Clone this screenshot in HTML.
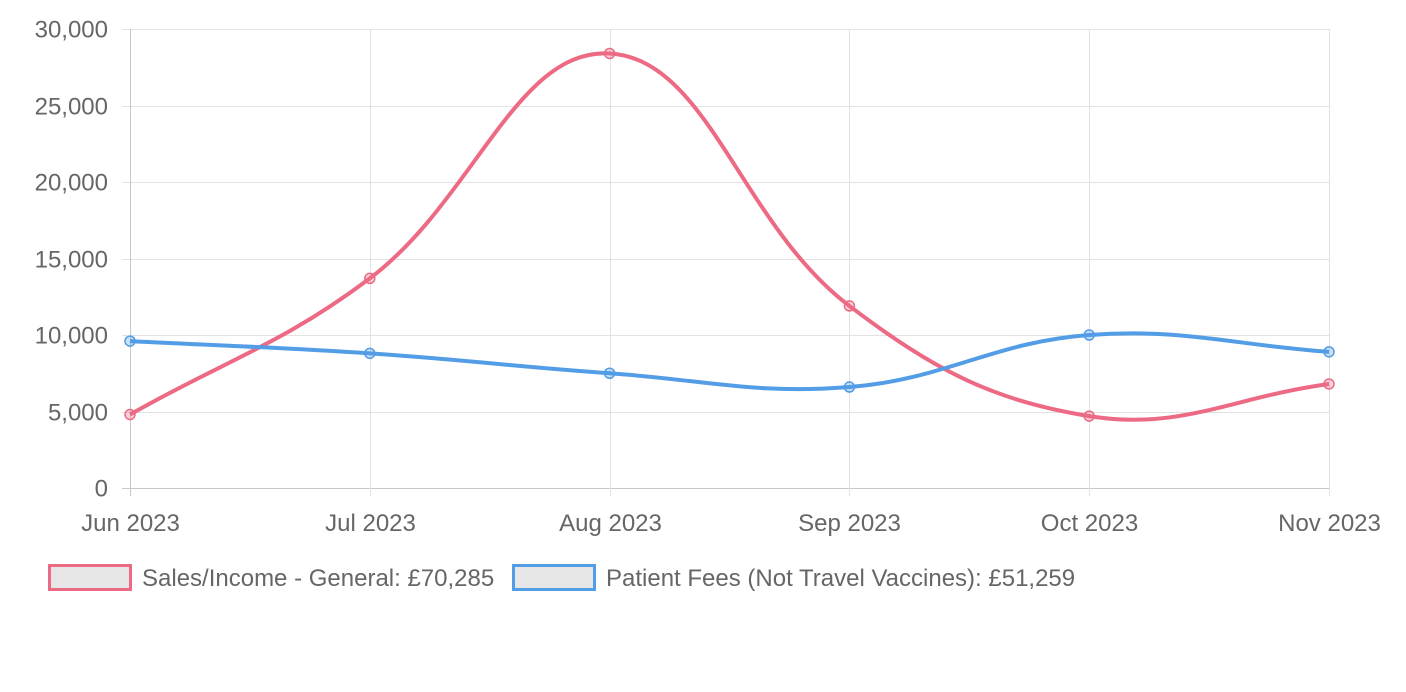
<!DOCTYPE html>
<html><head><meta charset="utf-8"><style>
html,body{margin:0;padding:0;background:#fff;width:1406px;height:692px;overflow:hidden}
svg text{font-family:"Liberation Sans",Helvetica,Arial,sans-serif;fill:#666;font-size:24px}
</style></head><body>
<svg id="s" width="1406" height="692" xmlns="http://www.w3.org/2000/svg">
<g id="grid" stroke="#e0e0e0" stroke-width="1"></g>
<g id="lbl"></g>
<path id="red" fill="none" stroke="rgb(237,106,132)" stroke-width="4"/>
<path id="blue" fill="none" stroke="rgb(82,157,229)" stroke-width="4"/>
<g id="pts"></g>
<rect x="49.5" y="565.5" width="81" height="24" fill="#e6e6e6" stroke="rgb(237,106,132)" stroke-width="3"/>
<text x="142" y="586">Sales/Income - General: £70,285</text>
<rect x="513.5" y="565.5" width="81" height="24" fill="#e6e6e6" stroke="rgb(82,157,229)" stroke-width="3"/>
<text x="606" y="586">Patient Fees (Not Travel Vaccines): £51,259</text>
</svg>
<script>
var NS="http://www.w3.org/2000/svg";
var X0=130,X1=1329,Y0=488,Y1=29;
var xs=[0,1,2,3,4,5].map(function(i){return X0+(X1-X0)*i/5});
function yv(v){return Y0-(Y0-Y1)*v/30000}
var g=document.getElementById('grid'),l=document.getElementById('lbl');
function el(t,a,p,txt){var e=document.createElementNS(NS,t);for(var k in a)e.setAttribute(k,a[k]);if(txt!=null)e.textContent=txt;p.appendChild(e);return e}
for(var i=0;i<=6;i++){var y=Math.round(yv(i*5000))+0.5;
 el('line',{x1:X0-8,x2:X1,y1:y,y2:y,stroke:i==0?'#c8c8c8':'#e2e2e2'},g);
 el('text',{x:108,y:y+8,'text-anchor':'end'},l,(i*5000).toLocaleString('en-US'));}
var months=['Jun 2023','Jul 2023','Aug 2023','Sep 2023','Oct 2023','Nov 2023'];
xs.forEach(function(x,i){x=Math.round(x)+0.5;
 el('line',{x1:x,x2:x,y1:Y1,y2:Y0+8,stroke:i==0?'#c8c8c8':'#e2e2e2'},g);
 el('text',{x:x,y:531,'text-anchor':'middle'},l,months[i]);});
function path(vals){
 var p=vals.map(function(v,i){return [xs[i],yv(v)]});var t=0.4,cps=[];
 for(var i=0;i<p.length;i++){var pr=p[Math.max(0,i-1)],c=p[i],nx=p[Math.min(p.length-1,i+1)];
  var d01=Math.hypot(c[0]-pr[0],c[1]-pr[1]),d12=Math.hypot(nx[0]-c[0],nx[1]-c[1]);
  var s01=d01/(d01+d12)||0,s12=d12/(d01+d12)||0;var fa=t*s01,fb=t*s12;
  cps.push({p:[c[0]-fa*(nx[0]-pr[0]),c[1]-fa*(nx[1]-pr[1])],n:[c[0]+fb*(nx[0]-pr[0]),c[1]+fb*(nx[1]-pr[1])]});}
 var d='M'+p[0][0]+','+p[0][1];
 for(var i=1;i<p.length;i++){d+=' C'+cps[i-1].n[0]+','+cps[i-1].n[1]+' '+cps[i].p[0]+','+cps[i].p[1]+' '+p[i][0]+','+p[i][1];}
 return {d:d,p:p};}
var red=[4800,13700,28400,11900,4700,6800],blue=[9600,8800,7500,6600,10000,8900];
var r=path(red),b=path(blue);
document.getElementById('red').setAttribute('d',r.d);
document.getElementById('blue').setAttribute('d',b.d);
var pts=document.getElementById('pts');
r.p.forEach(function(q){el('circle',{cx:q[0],cy:q[1],r:5,fill:'rgba(237,106,132,0.3)',stroke:'rgb(237,106,132)','stroke-width':1.5},pts)});
b.p.forEach(function(q){el('circle',{cx:q[0],cy:q[1],r:5,fill:'rgba(82,157,229,0.3)',stroke:'rgb(82,157,229)','stroke-width':1.5},pts)});
</script>
</body></html>
